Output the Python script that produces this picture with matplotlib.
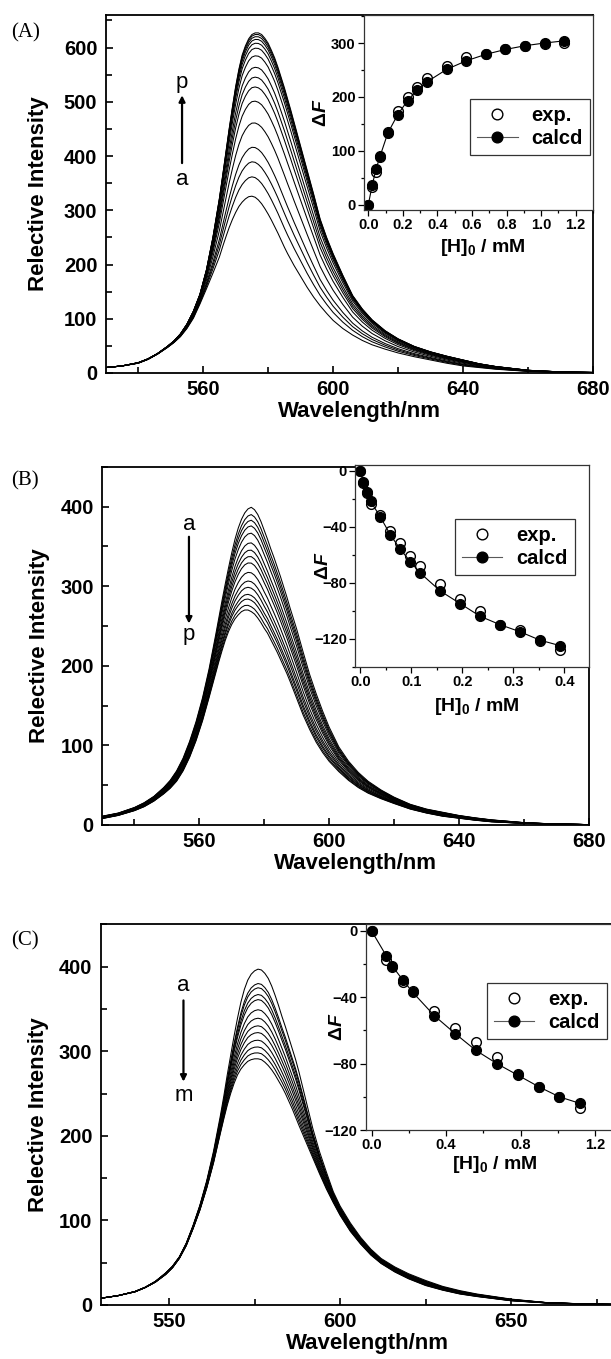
import numpy as np
import matplotlib.pyplot as plt
from matplotlib.ticker import MultipleLocator

plt.rcParams['font.family'] = ['Liberation Sans', 'DejaVu Sans']
plt.rcParams['font.weight'] = 'bold'
plt.rcParams['axes.labelweight'] = 'bold'
plt.rcParams['mathtext.fontset'] = 'custom'
plt.rcParams['mathtext.rm'] = 'Liberation Sans:bold'
plt.rcParams['mathtext.it'] = 'Liberation Sans:italic:bold'
plt.rcParams['mathtext.bf'] = 'Liberation Sans:bold'

W, H = 611, 1359

# ---- spectra: lowest and highest curve of each set ----
wl = [530, 535, 540, 543, 546, 549, 551, 553, 555, 557, 559, 561, 563, 565,
      566, 567, 568, 569, 570, 571, 572, 573, 574, 575, 576, 577, 578, 579, 580,
      581, 582, 583, 584, 585, 586, 587, 588,
      590, 592, 594, 596, 598, 600,
      603, 606, 609, 612, 616, 620,
      625, 630, 635, 640, 645, 650, 660, 670, 680]

A_hi = [10, 13, 19, 26, 36, 49, 59, 72, 90, 114, 145, 190, 250, 322,
        364, 407, 450, 490, 528, 560, 586, 603, 616, 624, 627, 627, 624, 617, 608,
        595, 581, 564, 545, 526, 505, 484, 462,
        418, 374, 330, 284, 250, 220,
        180, 143, 118, 98, 78, 63,
        49, 39, 31, 24, 17, 12, 5, 2, 1]
A_lo = [10, 13, 18, 25, 35, 47, 56, 67, 82, 101, 127, 155, 184, 214,
        233, 251, 268, 283, 296, 307, 315, 321, 325, 326, 324, 319, 312, 303, 293,
        282, 270, 258, 245, 232, 220, 209, 198,
        178, 158, 140, 124, 110, 97,
        82, 70, 60, 52, 44, 37,
        30, 24, 18, 13, 10, 7, 3, 1, 0.5]
A_peak = [327, 363, 391, 418, 463, 503, 529, 547, 565, 586, 600, 609, 616, 621, 625, 628]

B_hi = [11, 15, 22, 28, 36, 47, 56, 68, 84, 105, 130, 160, 196, 238,
        260, 282, 303, 323, 342, 359, 373, 384, 392, 397, 399, 396, 390, 381, 370,
        359, 347, 336, 324, 312, 299, 286, 272,
        246, 217, 189, 165, 143, 123,
        98, 80, 66, 55, 44, 35,
        26, 20, 16, 12, 9, 6.5, 3, 1.2, 0.5]
B_lo = [8, 12, 18, 23, 30, 39, 46, 55, 68, 85, 106, 131, 160, 190,
        205, 219, 232, 243, 252, 259, 264, 268, 270, 270, 268, 265, 260, 254, 247,
        241, 233, 225, 217, 208, 199, 190, 180,
        159, 138, 120, 104, 91, 80,
        67, 56, 47, 40, 33, 27,
        20, 15, 11, 8.5, 6, 4, 2, 1, 0.5]
B_peak = [399, 390, 383, 376, 367, 355, 346, 338, 330, 318, 307, 299, 290, 284, 276, 270]

C_hi = [8, 11, 16, 21, 28, 38, 46, 57, 73, 94, 118, 147, 182, 224,
        247, 272, 295, 318, 339, 358, 373, 384, 391, 395, 397, 396, 392, 386, 377,
        366, 354, 341, 329, 316, 303, 290, 275,
        242, 209, 181, 157, 134, 117,
        97, 80, 66, 55, 45, 37,
        29, 22, 17, 13, 10, 7, 3, 1.5, 0.8]
C_lo = [8, 11, 15.5, 20.5, 27, 36, 44, 55, 70, 90, 112, 138, 168, 203,
        220, 236, 250, 262, 272, 279, 284, 288, 290, 291, 291, 290, 287, 283, 278,
        272, 265, 258, 250, 241, 232, 222, 212,
        193, 174, 155, 137, 121, 106,
        87, 72, 59, 49, 39, 31,
        23, 17.5, 13, 10, 7.5, 5, 2.5, 1.2, 0.6]
C_peak = [397, 380, 375, 367, 361, 349, 339, 330, 322, 313, 305, 298, 291]

# ---- inset titration data ----
A_conc = [0, 0.023, 0.045, 0.068, 0.113, 0.17, 0.227, 0.283, 0.34, 0.453, 0.567,
          0.68, 0.793, 0.907, 1.02, 1.133]
A_exp = [0, 33, 60, 88, 135, 174, 200, 218, 235, 258, 274, 279, 289, 294, 298, 300]
A_calc = [0, 37, 66, 90, 133, 167, 193, 213, 228, 251, 267, 279, 288, 295, 300, 304]

B_conc = [0, 0.005, 0.012, 0.02, 0.039, 0.059, 0.078, 0.098, 0.117, 0.157, 0.196,
          0.235, 0.274, 0.313, 0.352, 0.392]
B_exp = [0, -9, -16, -24, -32, -43, -52, -61, -68, -81, -92, -100, -110, -114, -122, -128]
B_calc = [0, -8, -15, -22, -33, -46, -56, -65, -73, -86, -95, -104, -110, -115, -121, -125]

C_conc = [0, 0.079, 0.11, 0.167, 0.221, 0.336, 0.45, 0.56, 0.673, 0.786, 0.899, 1.008, 1.12]
C_exp = [0, -17.5, -22, -31, -36.5, -48, -58.6, -67, -76, -86, -94, -100, -107]
C_calc = [0, -15, -21, -29.5, -37, -51, -62, -72, -80, -87, -94, -100, -104]


fig = plt.figure(figsize=(W / 100, H / 100), dpi=100)


def px_box(left, top, right, bottom):
    return [left / W, 1 - bottom / H, (right - left) / W, (bottom - top) / H]


def main_panel(box, lo, hi, peaks, ylim, xmaj, xmin, ylab_px):
    ax = fig.add_axes(px_box(*box))
    lo = np.array(lo, float)
    hi = np.array(hi, float)
    p = np.array(peaks, float)
    # every spectrum lies between the lowest and highest one, set by its peak height
    for f in (p - p.min()) / (p.max() - p.min()):
        ax.plot(wl, lo + f * (hi - lo), color='k', lw=0.75)
    ax.set_xlim(530, 680)
    ax.set_ylim(*ylim)
    ax.xaxis.set_major_locator(MultipleLocator(xmaj))
    ax.xaxis.set_minor_locator(MultipleLocator(xmin))
    ax.yaxis.set_major_locator(MultipleLocator(100))
    ax.yaxis.set_minor_locator(MultipleLocator(50))
    ax.tick_params(which='both', direction='in', width=1.2, labelsize=14.5)
    ax.tick_params(which='major', length=5)
    ax.tick_params(which='minor', length=4)
    ax.tick_params(axis='y', pad=6)
    ax.tick_params(axis='x', pad=5)
    for s in ax.spines.values():
        s.set_linewidth(1.3)
    ax.set_xlabel('Wavelength/nm', fontsize=16, va='center')
    ax.set_ylabel('Relective Intensity', fontsize=16, va='center')
    l, t, r, b = box
    ax.xaxis.set_label_coords(0.52, -39 / (b - t))
    ax.yaxis.set_label_coords((ylab_px - l) / (r - l), 0.5)
    return ax


def inset_panel(box, conc, exp, calc, xlim, ylim, xmaj, xmin, ymaj, ymin, leg_xy, xlab_y, ylab_x):
    ax = fig.add_axes(px_box(*box))
    ax.set_facecolor('white')
    ax.plot(conc, exp, 'o', ls='none', mfc='white', mec='k', mew=1.0, ms=7, label='exp.')
    ax.plot(conc, calc, 'o-', color='k', lw=0.8, mfc='k', mec='k', ms=7, label='calcd')
    ax.set_xlim(*xlim)
    ax.set_ylim(*ylim)
    ax.xaxis.set_major_locator(MultipleLocator(xmaj))
    ax.xaxis.set_minor_locator(MultipleLocator(xmin))
    ax.yaxis.set_major_locator(MultipleLocator(ymaj))
    ax.yaxis.set_minor_locator(MultipleLocator(ymin))
    ax.tick_params(which='both', direction='out', width=0.9, labelsize=10.5, pad=2)
    ax.tick_params(which='major', length=4)
    ax.tick_params(which='minor', length=2.5)
    for s in ax.spines.values():
        s.set_linewidth(0.9)
        s.set_color('0.2')
    ax.set_xlabel('[H]$_0$ / mM', fontsize=14, va='center')
    ax.set_ylabel('Δ$\\mathit{F}$', fontsize=14, va='center')
    l, t, r, b = box
    ax.xaxis.set_label_coords(0.52, xlab_y)
    ax.yaxis.set_label_coords((ylab_x - l) / (r - l), 0.5)
    leg = ax.legend(loc='center right', bbox_to_anchor=leg_xy, frameon=True,
                    fancybox=False, fontsize=14.5, handlelength=2.0, handletextpad=0.7,
                    borderpad=0.35, labelspacing=0.2, borderaxespad=0, numpoints=1,
                    markerscale=1.1)
    leg.get_frame().set_edgecolor('k')
    leg.get_frame().set_linewidth(0.9)
    leg.get_lines()[1].set_color('0.35')
    leg.get_lines()[1].set_markerfacecolor('k')
    leg.get_lines()[1].set_markeredgecolor('k')
    return ax


def arrow_labels(ax, x, start, end, top_txt, top_y, bot_txt, bot_y):
    ax.annotate('', xy=(x, end), xytext=(x, start),
                arrowprops=dict(arrowstyle='-|>', color='k', lw=1.6,
                                mutation_scale=9, shrinkA=0, shrinkB=0))
    ax.text(x, top_y, top_txt, ha='center', va='center', fontsize=16, fontweight='normal')
    ax.text(x, bot_y, bot_txt, ha='center', va='center', fontsize=16, fontweight='normal')


# ---- panel A ----
axA = main_panel((105.7, 15, 593, 373), A_lo, A_hi, A_peak, (0, 660), 40, 20, 39)
arrow_labels(axA, 553.5, 387, 512, 'p', 536, 'a', 357)
inset_panel((364, 15, 593, 210), A_conc, A_exp, A_calc, (-0.025, 1.30), (-10, 352),
            0.2, 0.1, 100, 50, (0.987, 0.426), -0.19, 321)

# ---- panel B ----
axB = main_panel((102, 466.7, 588.7, 825), B_lo, B_hi, B_peak, (0, 450), 40, 20, 39)
arrow_labels(axB, 556.8, 362, 253, 'a', 377, 'p', 239)
inset_panel((355.3, 465, 588.7, 666.7), B_conc, B_exp, B_calc, (-0.01, 0.448), (-140, 4),
            0.1, 0.05, 40, 20, (0.941, 0.595), -0.195, 324)

# ---- panel C ----
axC = main_panel((100.7, 924.3, 613.7, 1305), C_lo, C_hi, C_peak, (0, 450), 50, 25, 39)
arrow_labels(axC, 554.2, 360, 264, 'a', 378, 'm', 248)
inset_panel((366, 924.3, 613.7, 1130), C_conc, C_exp, C_calc, (-0.03, 1.30), (-120, 4),
            0.4, 0.2, 40, 20, (0.972, 0.577), -0.17, 337)

for txt, y in (('(A)', 33), ('(B)', 481), ('(C)', 941)):
    fig.text(11 / W, 1 - y / H, txt, family=['Liberation Serif', 'DejaVu Serif'],
             fontweight='normal', fontsize=15, va='center', ha='left')

fig.savefig('out.png', dpi=100)
